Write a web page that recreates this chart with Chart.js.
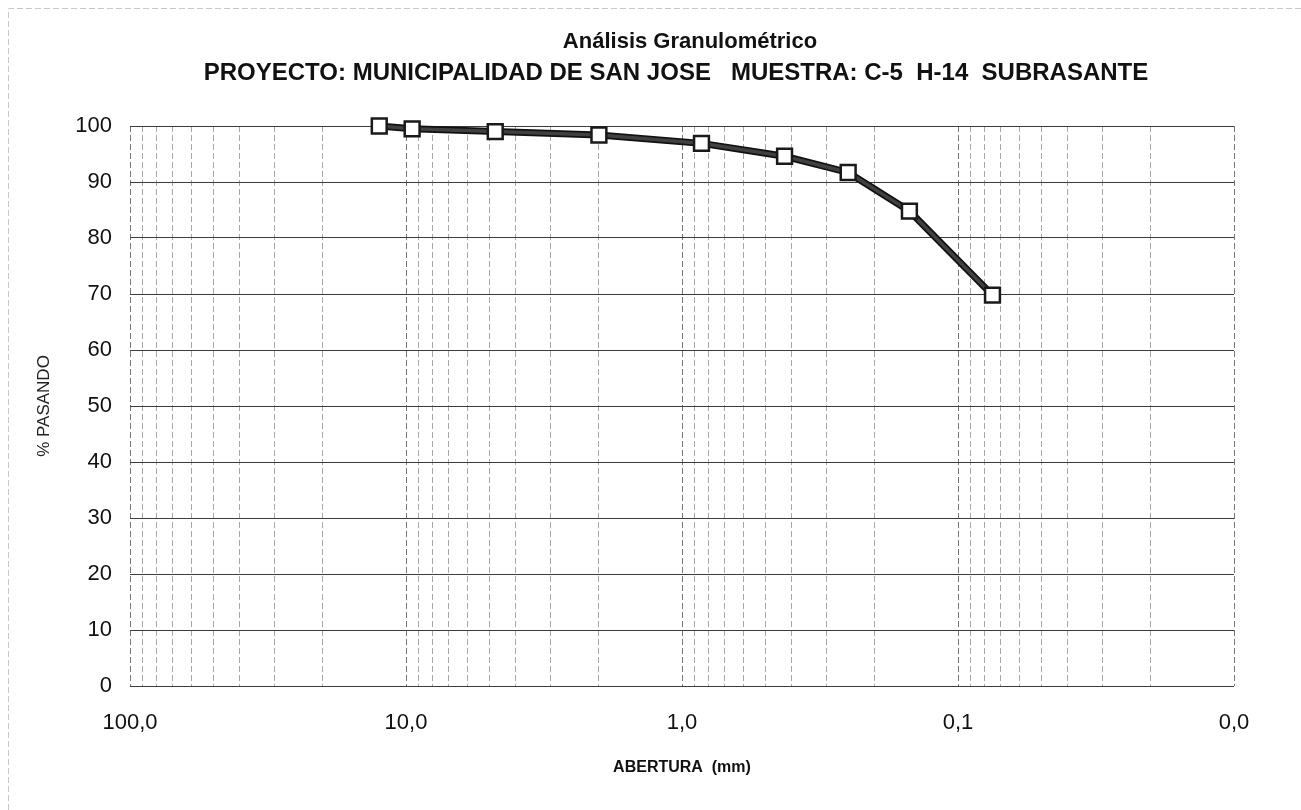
<!DOCTYPE html>
<html>
<head>
<meta charset="utf-8">
<script src="https://cdn.jsdelivr.net/npm/chart.js@4/dist/chart.umd.min.js"></script>
<style>
  html, body { margin: 0; padding: 0; background: #fff; }
  #wrap { width: 1301px; height: 810px; position: relative; }
</style>
</head>
<body>
<div id="wrap"><canvas id="c" width="1301" height="810"></canvas></div>
<script>
// ---- data ----
const titleLine1 = 'Análisis Granulométrico';
const titleLine2 = 'PROYECTO: MUNICIPALIDAD DE SAN JOSE   MUESTRA: C-5  H-14  SUBRASANTE';
const xAxisTitle = 'ABERTURA  (mm)';
const yAxisTitle = '% PASANDO';

const aperture = [12.5, 9.5, 4.75, 2.0, 0.85, 0.425, 0.25, 0.15, 0.075];   // mm
const passing  = [100, 99.5, 99.0, 98.4, 96.9, 94.6, 91.7, 84.8, 69.8];    // %

const xTickValues = [100, 10, 1, 0.1, 0.01];
const xTickLabels = ['100,0', '10,0', '1,0', '0,1', '0,0'];
const yTickValues = [0, 10, 20, 30, 40, 50, 60, 70, 80, 90, 100];
const minorMultipliers = [1, 2, 3, 4, 5, 6, 7, 8, 9];

const points = aperture.map((a, i) => ({ x: a, y: passing[i] }));

function isDecade(v) {
  return xTickValues.some(t => Math.abs(t - v) / t < 1e-6);
}
function decadeLabel(v) {
  const i = xTickValues.findIndex(t => Math.abs(t - v) / t < 1e-6);
  return i >= 0 ? xTickLabels[i] : '';
}

const FONT = "'Liberation Sans', Arial, sans-serif";

const frameAndTitles = {
  id: 'frameAndTitles',
  beforeDraw(chart) {
    const ctx = chart.ctx;
    ctx.save();
    ctx.strokeStyle = '#c8c8c8';
    ctx.lineWidth = 1;
    ctx.setLineDash([6, 3]);
    ctx.beginPath();
    ctx.moveTo(8.5, 810); ctx.lineTo(8.5, 8.5); ctx.lineTo(1301, 8.5);
    ctx.stroke();
    ctx.setLineDash([]);
    ctx.fillStyle = '#111';
    ctx.textAlign = 'center';
    ctx.textBaseline = 'middle';
    ctx.font = 'bold 22px ' + FONT;
    ctx.fillText(titleLine1, 690, 42);
    ctx.font = 'bold 24px ' + FONT;
    ctx.fillText(titleLine2, 676, 73);
    ctx.restore();
  }
};

new Chart(document.getElementById('c'), {
  type: 'line',
  data: {
    datasets: [
      {
        data: points,
        borderColor: '#404040',
        borderWidth: 3.5,
        pointStyle: 'rect',
        pointRadius: 10.5,
        pointHoverRadius: 10.5,
        pointBackgroundColor: '#ffffff',
        pointBorderColor: '#1a1a1a',
        pointBorderWidth: 2.5,
        tension: 0,
        clip: false,
        order: 0
      },
      {
        data: points,
        borderColor: '#111111',
        borderWidth: 7,
        pointRadius: 0,
        pointHoverRadius: 0,
        tension: 0,
        clip: false,
        order: 1
      }
    ]
  },
  options: {
    responsive: false,
    animation: false,
    devicePixelRatio: 1,
    layout: { padding: { left: 0, right: 67, top: 126, bottom: 0 } },
    plugins: {
      legend: { display: false },
      tooltip: { enabled: false },
      title: { display: false }
    },
    scales: {
      x: {
        type: 'logarithmic',
        reverse: true,
        min: 0.01,
        max: 100,
        afterBuildTicks(scale) {
          const ticks = [];
          for (let k = -2; k <= 1; k++) {
            for (const m of minorMultipliers) {
              ticks.push({ value: Number((m * Math.pow(10, k)).toPrecision(3)) });
            }
          }
          ticks.push({ value: 100 });
          scale.ticks = ticks;
        },
        afterFit(scale) { scale.height = 124; },
        ticks: {
          autoSkip: false,
          maxRotation: 0,
          padding: 24,
          color: '#111',
          font: { family: FONT, size: 22 },
          callback: (v) => decadeLabel(v)
        },
        grid: {
          drawTicks: false,
          color: (ctx) => (ctx.tick && isDecade(ctx.tick.value)) ? '#777' : '#a8a8a8',
          lineWidth: 1
        },
        border: { display: false, dash: [6, 3] },
        title: {
          display: true,
          text: xAxisTitle,
          color: '#111',
          font: { family: FONT, size: 16, weight: 'bold', lineHeight: 1.2 },
          padding: { top: 0, bottom: 33 }
        }
      },
      y: {
        type: 'linear',
        min: 0,
        max: 100,
        afterBuildTicks(scale) {
          scale.ticks = yTickValues.map(v => ({ value: v }));
        },
        afterFit(scale) { scale.width = 130; },
        ticks: {
          padding: 18,
          color: '#111',
          font: { family: FONT, size: 22 },
          callback: (v) => String(v)
        },
        grid: {
          drawTicks: false,
          color: '#3c3c3c',
          lineWidth: 1
        },
        border: { display: false },
        title: {
          display: true,
          text: yAxisTitle,
          color: '#222',
          font: { family: FONT, size: 17, lineHeight: 1.2 },
          padding: { top: 34, bottom: 0 }
        }
      }
    }
  },
  plugins: [frameAndTitles]
});
</script>
</body>
</html>
